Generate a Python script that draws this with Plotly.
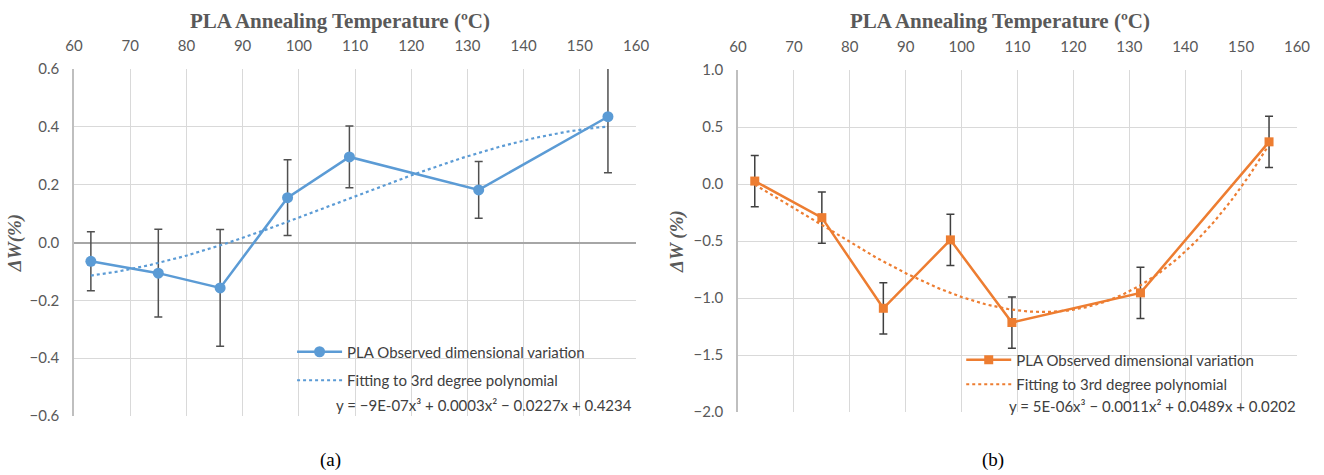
import numpy as np
import plotly.graph_objects as go

# ---------------- data ----------------
temps = [63, 75, 86, 98, 109, 132, 155]
dw_a = [-0.065, -0.106, -0.157, 0.155, 0.296, 0.182, 0.435]
err_a = [0.102, 0.152, 0.202, 0.131, 0.107, 0.098, 0.194]
dw_b = [0.026, -0.295, -1.09, -0.49, -1.215, -0.955, 0.37]
err_b = [0.225, 0.225, 0.225, 0.225, 0.225, 0.225, 0.225]
x_ticks = [60, 70, 80, 90, 100, 110, 120, 130, 140, 150, 160]
y_ticks_a = [-0.6, -0.4, -0.2, 0.0, 0.2, 0.4, 0.6]
y_ticks_b = [-2.0, -1.5, -1.0, -0.5, 0.0, 0.5, 1.0]
eq_a = "y = \u22129E-07x\u00b3 + 0.0003x\u00b2 \u2212 0.0227x + 0.4234"
eq_b = "y = 5E-06x\u00b3 \u2212 0.0011x\u00b2 + 0.0489x + 0.0202"
series_name = "PLA Observed dimensional variation"
fit_name = "Fitting to 3rd degree polynomial"
x_title = "PLA Annealing Temperature (\u00baC)"

BLUE = "#5B9BD5"
ORANGE = "#ED7D31"
GRID = "#D9D9D9"
TXT = "#595959"
TICKFONT = dict(family="Lato", size=15, color=TXT)
TITLEFONT = dict(family="Liberation Serif", size=21, color=TXT)

# polynomial trendlines fitted to the observed data (as the spreadsheet did)
xs_fit = np.linspace(min(temps), max(temps), 200)
fit_a = np.polyval(np.polyfit(temps, dw_a, 3), xs_fit)
fit_b = np.polyval(np.polyfit(temps, dw_b, 3), xs_fit)

fig = go.Figure()

# ---- panel (a) ----
fig.add_trace(go.Scatter(
    x=temps, y=dw_a, mode="lines+markers", name=series_name,
    line=dict(color=BLUE, width=2.5), marker=dict(symbol="circle", size=11, color=BLUE),
    error_y=dict(type="data", array=err_a, color="#505050", thickness=1.5, width=4),
    xaxis="x", yaxis="y", legend="legend", legendgroup="a1"))
fig.add_trace(go.Scatter(
    x=xs_fit, y=fit_a, mode="lines", name=fit_name,
    line=dict(color=BLUE, width=2.2, dash="dot"),
    xaxis="x", yaxis="y", legend="legend", legendgroup="a2"))

# ---- panel (b) ----
fig.add_trace(go.Scatter(
    x=temps, y=dw_b, mode="lines+markers", name=series_name,
    line=dict(color=ORANGE, width=2.5), marker=dict(symbol="square", size=9, color=ORANGE),
    error_y=dict(type="data", array=err_b, color="#404040", thickness=1.5, width=4),
    xaxis="x2", yaxis="y2", legend="legend2", legendgroup="b1"))
fig.add_trace(go.Scatter(
    x=xs_fit, y=fit_b, mode="lines", name=fit_name,
    line=dict(color=ORANGE, width=2.2, dash="dot"),
    xaxis="x2", yaxis="y2", legend="legend2", legendgroup="b2"))

xa_common = dict(
    range=[60, 160], tickvals=x_ticks, side="top", showgrid=True, gridcolor=GRID,
    gridwidth=1, zeroline=False, showline=False, ticks="", tickfont=TICKFONT,
    automargin=False, ticklabelstandoff=14,
)

fig.update_layout(
    width=1324, height=475, margin=dict(l=0, r=0, t=0, b=0, autoexpand=False),
    paper_bgcolor="white", plot_bgcolor="white", showlegend=True,
    xaxis=dict(domain=[0.0559, 0.4804], anchor="y", **xa_common),
    yaxis=dict(domain=[0.1242, 0.8547], anchor="x", range=[-0.6, 0.6],
               tickvals=y_ticks_a, tickformat=".1f", showgrid=True, gridcolor=GRID,
               zeroline=True, zerolinecolor="#A6A6A6", zerolinewidth=1.5,
               showline=True, linecolor="#BFBFBF", linewidth=1.5, ticks="",
               tickfont=TICKFONT, ticklabelstandoff=10, automargin=False,
               title=dict(text="<b><i>\u0394W(%)</i></b>",
                          font=dict(family="Liberation Serif", size=19, color=TXT), standoff=3)),
    xaxis2=dict(domain=[0.5574, 0.9796], anchor="y2", **xa_common),
    yaxis2=dict(domain=[0.1326, 0.8526], anchor="x2", range=[-2.0, 1.0],
                tickvals=y_ticks_b, tickformat=".1f", showgrid=True, gridcolor=GRID,
                zeroline=False, showline=True, linecolor="#BFBFBF", linewidth=1.5,
                ticks="", tickfont=TICKFONT, ticklabelstandoff=10, automargin=False,
                title=dict(text="<b><i>\u0394W (%)</i></b>",
                           font=dict(family="Liberation Serif", size=19, color=TXT), standoff=5)),
    legend=dict(x=0.2206, y=1 - 366 / 475, xanchor="left", yanchor="middle",
                bgcolor="rgba(0,0,0,0)", font=dict(family="Lato", size=15, color="#404040"),
                itemwidth=45, tracegroupgap=6),
    legend2=dict(x=0.726, y=1 - 372 / 475, xanchor="left", yanchor="middle",
                 bgcolor="rgba(0,0,0,0)", font=dict(family="Lato", size=15, color="#404040"),
                 itemwidth=45, tracegroupgap=2),
    annotations=[
        dict(text="<b>" + x_title + "</b>", xref="paper", yref="paper",
             x=340 / 1324, y=1 - 21 / 475, xanchor="center", yanchor="middle",
             showarrow=False, font=TITLEFONT),
        dict(text="<b>" + x_title + "</b>", xref="paper", yref="paper",
             x=1000 / 1324, y=1 - 21 / 475, xanchor="center", yanchor="middle",
             showarrow=False, font=TITLEFONT),
        dict(text=eq_a, xref="paper", yref="paper", x=634 / 1324, y=1 - 405 / 475,
             xanchor="right", yanchor="middle", showarrow=False,
             font=dict(family="Lato", size=15, color="#404040")),
        dict(text=eq_b, xref="paper", yref="paper", x=1298 / 1324, y=1 - 406 / 475,
             xanchor="right", yanchor="middle", showarrow=False,
             font=dict(family="Lato", size=15, color="#404040")),
        dict(text="(a)", xref="paper", yref="paper", x=330 / 1324, y=1 - 460 / 475,
             xanchor="center", yanchor="middle", showarrow=False,
             font=dict(family="Liberation Serif", size=19, color="black")),
        dict(text="(b)", xref="paper", yref="paper", x=993 / 1324, y=1 - 460 / 475,
             xanchor="center", yanchor="middle", showarrow=False,
             font=dict(family="Liberation Serif", size=19, color="black")),
    ],
)

fig.write_html("out.html")
